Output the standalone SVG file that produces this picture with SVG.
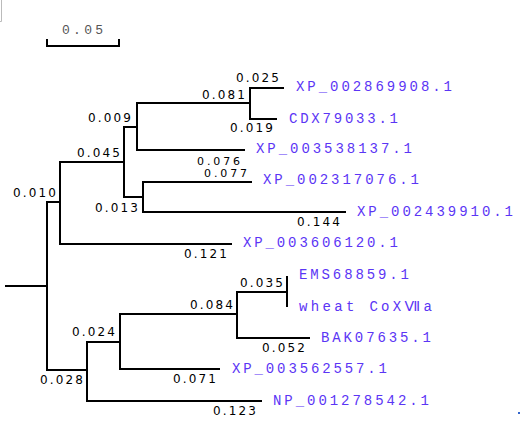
<svg xmlns="http://www.w3.org/2000/svg" width="520" height="440" viewBox="0 0 520 440">
<style>
.br{stroke:#000;stroke-width:2;fill:none;stroke-linecap:square}
.num{font-family:"DejaVu Sans",Verdana,sans-serif;font-size:12px;fill:#000}
.sm{font-size:11px}
.lab{font-family:"Liberation Mono","Courier New","DejaVu Sans",monospace;font-size:14px;fill:#5b35f5}
.sc{font-family:"Liberation Mono","Courier New",monospace;font-size:13px;fill:#555}
</style>
<rect width="520" height="440" fill="#fff"/>
<path d="M1.5 0V21.5H0" stroke="#bbb" stroke-width="1" fill="none"/>
<rect x="518" y="412" width="2" height="2" fill="#3366cc"/>
<g id="scale">
<path class="br" d="M47 40V46H119V40"/>
<text class="sc" x="62" y="34" textLength="41" lengthAdjust="spacing">0.05</text>
</g>
<g id="connectors">
<path class="br" d="M6 286H47M47 202V370M47 202H60M60 162V244M60 244H231M60 162H124M124 127V197M124 127H137M137 103V150M137 103H250M250 88V119M250 88H283M250 119H276M137 150H244M124 197H143M143 182V212M143 182H251M143 212H345"/>
<path class="br" d="M47 370H87M87 342V401M87 342H120M120 314V369M120 314H237M237 292V338M237 292H287M287 277V306M237 338H309M120 369H219M87 401H261"/>
</g>
<g id="branch-lengths">
<text class="num" x="236" y="82" textLength="43" lengthAdjust="spacing">0.025</text>
<text class="num" x="202" y="99" textLength="43" lengthAdjust="spacing">0.081</text>
<text class="num" x="230" y="132" textLength="43" lengthAdjust="spacing">0.019</text>
<text class="num" x="88" y="122" textLength="43" lengthAdjust="spacing">0.009</text>
<text class="num sm" x="197" y="165" textLength="43" lengthAdjust="spacing">0.076</text>
<text class="num" x="77" y="157" textLength="43" lengthAdjust="spacing">0.045</text>
<text class="num sm" x="204" y="177" textLength="43" lengthAdjust="spacing">0.077</text>
<text class="num" x="95" y="212" textLength="43" lengthAdjust="spacing">0.013</text>
<text class="num" x="297" y="226" textLength="43" lengthAdjust="spacing">0.144</text>
<text class="num" x="13" y="197" textLength="43" lengthAdjust="spacing">0.010</text>
<text class="num" x="184" y="258" textLength="43" lengthAdjust="spacing">0.121</text>
<text class="num" x="240" y="287" textLength="43" lengthAdjust="spacing">0.035</text>
<text class="num" x="190" y="309" textLength="43" lengthAdjust="spacing">0.084</text>
<text class="num" x="262" y="352" textLength="43" lengthAdjust="spacing">0.052</text>
<text class="num" x="72" y="336" textLength="43" lengthAdjust="spacing">0.024</text>
<text class="num" x="173" y="383" textLength="43" lengthAdjust="spacing">0.071</text>
<text class="num" x="40" y="384" textLength="43" lengthAdjust="spacing">0.028</text>
<text class="num" x="213" y="415" textLength="43" lengthAdjust="spacing">0.123</text>
</g>
<g id="leaf-XP_002869908"><text class="lab" x="296" y="91" textLength="156" lengthAdjust="spacing">XP_002869908.1</text></g>
<g id="leaf-CDX79033"><text class="lab" x="289" y="123" textLength="109" lengthAdjust="spacing">CDX79033.1</text></g>
<g id="leaf-XP_003538137"><text class="lab" x="256" y="153" textLength="156" lengthAdjust="spacing">XP_003538137.1</text></g>
<g id="leaf-XP_002317076"><text class="lab" x="263" y="184" textLength="156" lengthAdjust="spacing">XP_002317076.1</text></g>
<g id="leaf-XP_002439910"><text class="lab" x="357" y="216" textLength="156" lengthAdjust="spacing">XP_002439910.1</text></g>
<g id="leaf-XP_003606120"><text class="lab" x="243" y="247" textLength="155" lengthAdjust="spacing">XP_003606120.1</text></g>
<g id="leaf-EMS68859"><text class="lab" x="299" y="279" textLength="110" lengthAdjust="spacing">EMS68859.1</text></g>
<g id="leaf-wheat"><text class="lab" x="299" y="311" textLength="133" lengthAdjust="spacing">wheat CoXⅦa</text></g>
<g id="leaf-BAK07635"><text class="lab" x="321" y="342" textLength="110" lengthAdjust="spacing">BAK07635.1</text></g>
<g id="leaf-XP_003562557"><text class="lab" x="232" y="373" textLength="155" lengthAdjust="spacing">XP_003562557.1</text></g>
<g id="leaf-NP_001278542"><text class="lab" x="273" y="405" textLength="156" lengthAdjust="spacing">NP_001278542.1</text></g>
</svg>
